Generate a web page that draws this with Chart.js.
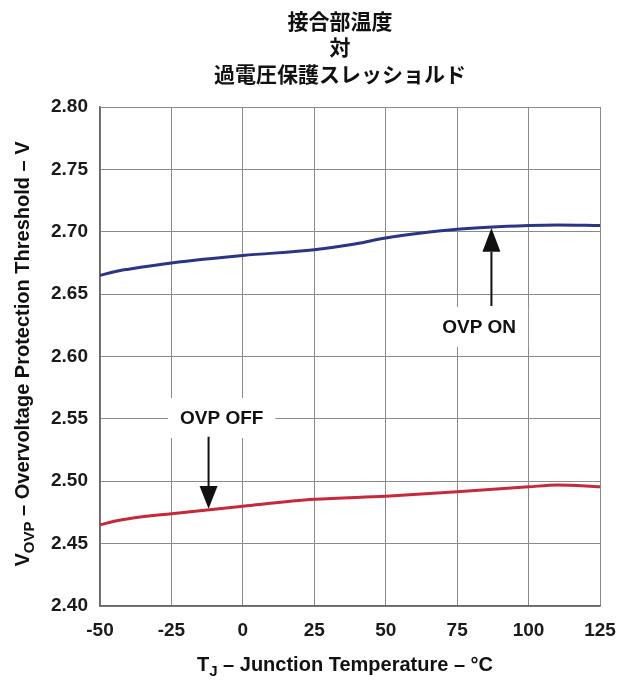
<!DOCTYPE html>
<html>
<head>
<meta charset="utf-8">
<script src="https://cdn.jsdelivr.net/npm/chart.js@4.4.0/dist/chart.umd.min.js"></script>
<style>
html,body{margin:0;padding:0;background:#fff;}
#wrap{width:631px;height:682px;position:relative;}
</style>
</head>
<body>
<div id="wrap"><canvas id="c" width="631" height="682"></canvas></div>
<script>
// ---- data ----
const titleLines = ["接合部温度", "対", "過電圧保護スレッショルド"];
const xTicks = [-50, -25, 0, 25, 50, 75, 100, 125];
const yTicks = [2.40, 2.45, 2.50, 2.55, 2.60, 2.65, 2.70, 2.75, 2.80];
const onTemps = [-50, -45, -40, -25, 0, 25, 37.5, 50, 62.5, 75, 100, 110, 125];
const onValues = [2.665, 2.668, 2.670, 2.675, 2.681, 2.6855, 2.6895, 2.695, 2.699, 2.702, 2.705, 2.7055, 2.705];
const offTemps = [-50, -45, -40, -25, 0, 25, 50, 75, 100, 110, 125];
const offValues = [2.465, 2.468, 2.470, 2.474, 2.480, 2.4855, 2.488, 2.4915, 2.4955, 2.497, 2.4955];
const seriesNames = ["OVP ON", "OVP OFF"];
// arrows: [tipT, tipV, headBaseV, tailV, labelT, labelV]
const onArrow = [87, 2.703, 2.684, 2.6405, 82.7, 2.6236];
const offArrow = [-12, 2.478, 2.4962, 2.5357, -7.4, 2.5507];

const toXY = (xs, ys) => xs.map((x, i) => ({x: x, y: ys[i]}));
const FONT = '"Liberation Sans", Arial, sans-serif';

const annot = {
  id: 'annot',
  afterDatasetsDraw(chart) {
    const {ctx, scales: {x, y}} = chart;
    const draw = (a, label) => {
      const tx = x.getPixelForValue(a[0]);
      const ty = y.getPixelForValue(a[1]);
      const hb = y.getPixelForValue(a[2]);
      const tl = y.getPixelForValue(a[3]);
      const lx = x.getPixelForValue(a[4]);
      const ly = y.getPixelForValue(a[5]);
      ctx.save();
      ctx.font = 'bold 19px ' + FONT;
      const w = ctx.measureText(label).width;
      ctx.fillStyle = '#fff';
      ctx.fillRect(lx - w / 2 - 12, ly - 20, w + 24, 40);
      ctx.fillStyle = '#111';
      ctx.textAlign = 'center';
      ctx.textBaseline = 'middle';
      ctx.fillText(label, lx, ly + 1);
      ctx.strokeStyle = '#111';
      ctx.lineWidth = 2;
      ctx.beginPath();
      ctx.moveTo(tx, tl);
      ctx.lineTo(tx, hb);
      ctx.stroke();
      ctx.beginPath();
      ctx.moveTo(tx, ty);
      ctx.lineTo(tx - 9, hb);
      ctx.lineTo(tx + 9, hb);
      ctx.closePath();
      ctx.fill();
      ctx.restore();
    };
    draw(onArrow, seriesNames[0]);
    draw(offArrow, seriesNames[1]);
  }
};

const texts = {
  id: 'texts',
  afterDraw(chart) {
    const {ctx} = chart;
    ctx.save();
    ctx.fillStyle = '#111';
    ctx.textAlign = 'center';
    ctx.textBaseline = 'middle';
    ctx.font = 'bold 21px "Noto Sans CJK JP", sans-serif';
    const tys = [21, 47, 74];
    titleLines.forEach((t, i) => ctx.fillText(t, 340, tys[i]));

    const big = 'bold 20px ' + FONT;
    const small = 'bold 15px ' + FONT;
    const drawSub = (a, sub, b, cx, cy) => {
      ctx.font = big;
      const wa = ctx.measureText(a).width;
      const wb = ctx.measureText(b).width;
      ctx.font = small;
      const ws = ctx.measureText(sub).width;
      let sx = cx - (wa + ws + wb) / 2;
      ctx.textAlign = 'left';
      ctx.font = big;
      ctx.fillText(a, sx, cy);
      ctx.font = small;
      ctx.fillText(sub, sx + wa, cy + 7);
      ctx.font = big;
      ctx.fillText(b, sx + wa + ws, cy);
    };
    drawSub('T', 'J', ' – Junction Temperature – °C', 345, 665);
    ctx.translate(23, 354);
    ctx.rotate(-Math.PI / 2);
    drawSub('V', 'OVP', ' – Overvoltage Protection Threshold – V', 0, 0);
    ctx.restore();
  }
};

new Chart(document.getElementById('c'), {
  type: 'line',
  data: {
    datasets: [
      {label: seriesNames[0], data: toXY(onTemps, onValues), borderColor: '#2b3585', borderWidth: 3, pointRadius: 0, tension: 0.4, cubicInterpolationMode: 'monotone'},
      {label: seriesNames[1], data: toXY(offTemps, offValues), borderColor: '#c62a3a', borderWidth: 3, pointRadius: 0, tension: 0.4, cubicInterpolationMode: 'monotone'}
    ]
  },
  options: {
    responsive: false,
    animation: false,
    devicePixelRatio: 1,
    layout: {padding: {left: 0, right: 31, top: 107, bottom: 0}},
    plugins: {legend: {display: false}, tooltip: {enabled: false}, title: {display: false}},
    scales: {
      x: {
        type: 'linear', min: -50, max: 125,
        afterBuildTicks: s => { s.ticks = xTicks.map(v => ({value: v})); },
        afterFit: s => { s.height = 76; },
        grid: {color: '#8a8a8a', lineWidth: 1, drawTicks: false},
        border: {color: '#666', width: 1.5},
        ticks: {padding: 13, color: '#1a1a1a', font: {family: FONT, size: 19, weight: 'bold'}, maxRotation: 0, autoSkip: false}
      },
      y: {
        type: 'linear', min: 2.40, max: 2.80,
        afterBuildTicks: s => { s.ticks = yTicks.map(v => ({value: v})); },
        afterFit: s => { s.width = 100; },
        grid: {color: '#8a8a8a', lineWidth: 1, drawTicks: false},
        border: {color: '#666', width: 1.5},
        ticks: {padding: 12, color: '#1a1a1a', callback: v => v.toFixed(2), font: {family: FONT, size: 19, weight: 'bold'}, autoSkip: false}
      }
    }
  },
  plugins: [annot, texts]
});
</script>
</body>
</html>
